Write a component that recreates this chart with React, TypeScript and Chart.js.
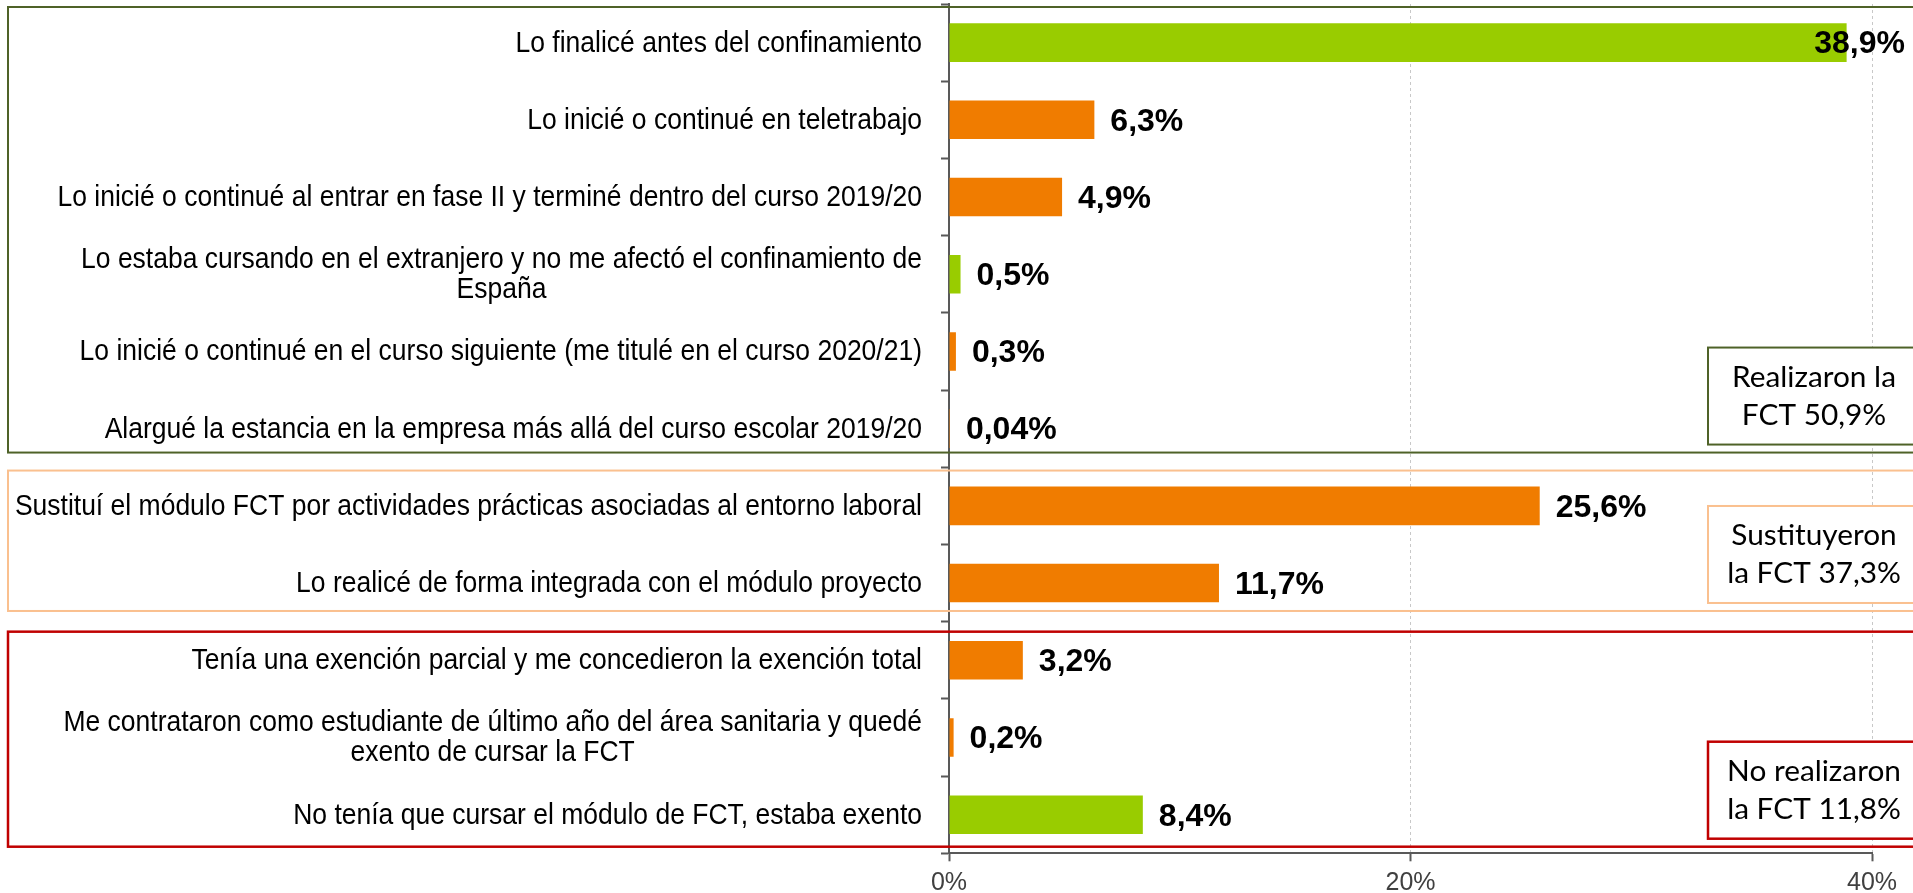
import React, { useEffect, useRef } from "react";
import { Chart, registerables } from "chart.js";

Chart.register(...registerables);

const categories: (string | string[])[] = [
  "Lo finalicé antes del confinamiento",
  "Lo inicié o continué en teletrabajo",
  "Lo inicié o continué al entrar en fase II y terminé dentro del curso 2019/20",
  ["Lo estaba cursando en el extranjero y no me afectó el confinamiento de", "España"],
  "Lo inicié o continué en el curso siguiente (me titulé en el curso 2020/21)",
  "Alargué la estancia en la empresa más allá del curso escolar 2019/20",
  "Sustituí el módulo FCT por actividades prácticas asociadas al entorno laboral",
  "Lo realicé de forma integrada con el módulo proyecto",
  "Tenía una exención parcial y me concedieron la exención total",
  ["Me contrataron como estudiante de último año del área sanitaria y quedé", "exento de cursar la FCT"],
  "No tenía que cursar el módulo de FCT, estaba exento",
];

const values = [38.9, 6.3, 4.9, 0.5, 0.3, 0.04, 25.6, 11.7, 3.2, 0.2, 8.4];

const GREEN = "#99CC00";
const ORANGE = "#F07C00";
const barColors = [GREEN, ORANGE, ORANGE, GREEN, ORANGE, ORANGE, ORANGE, ORANGE, ORANGE, ORANGE, GREEN];

const xTickValues = [0, 20, 40];

const groupFirst = [0, 6, 8];
const groupLast = [5, 7, 10];
const groupColors = ["#4F6228", "#FAC08F", "#C00000"];
const groupNotes = [
  ["Realizaron la", "FCT 50,9%"],
  ["Sustituyeron", "la FCT 37,3%"],
  ["No realizaron", "la FCT 11,8%"],
];
// pixel insets of the group frames from the category boundaries (style only)
const groupTopInset = [3, 3.3, 10];
const groupBottomInset = [14.7, 10.7, 6.6];

const LABEL_FONT = "'Liberation Sans', Arial, sans-serif";

const fmt = (v: number) => v.toString().replace(".", ",") + "%";

const overlayPlugin = {
  id: "overlay",
  afterDatasetsDraw(chart: any) {
    const { ctx, chartArea } = chart;
    const xs = chart.scales.x;
    const ys = chart.scales.y;
    ctx.save();
    // category labels (block right-aligned, lines centred), slightly condensed
    const hs = 0.92;
    ctx.font = `28.8px ${LABEL_FONT}`;
    ctx.fillStyle = "#000";
    ctx.textBaseline = "middle";
    ctx.textAlign = "center";
    categories.forEach((c, i) => {
      const lines = Array.isArray(c) ? c : [c];
      const maxW = Math.max(...lines.map((l) => ctx.measureText(l).width)) * hs;
      const right = chartArea.left - 27;
      const cx = right - maxW / 2;
      const cy = ys.getPixelForValue(i);
      const lh = 30;
      lines.forEach((l, k) => {
        ctx.save();
        ctx.translate(cx, cy + (k - (lines.length - 1) / 2) * lh + 1);
        ctx.scale(hs, 1);
        ctx.fillText(l, 0, 0);
        ctx.restore();
      });
    });
    // value labels
    ctx.font = `bold 32px ${LABEL_FONT}`;
    ctx.textAlign = "left";
    values.forEach((v, i) => {
      const t = fmt(v);
      const w = ctx.measureText(t).width;
      const end = xs.getPixelForValue(v);
      let x = end + 16;
      if (x + w > chart.width - 8) x = chart.width - 8 - w;
      ctx.fillText(t, x, ys.getPixelForValue(i) + 2);
    });
    ctx.restore();
  },
  afterDraw(chart: any) {
    const { ctx, chartArea } = chart;
    const ys = chart.scales.y;
    ctx.save();
    // note font fitted to Calibri-like width
    ctx.font = `30px Lato, 'Open Sans', sans-serif`;
    const ref = ctx.measureText("Realizaron la").width;
    const noteSize = (30 * 164) / ref;
    groupFirst.forEach((first, g) => {
      const top = ys.getPixelForValue(first - 0.5) + groupTopInset[g];
      const bottom = ys.getPixelForValue(groupLast[g] + 0.5) - groupBottomInset[g];
      ctx.strokeStyle = groupColors[g];
      ctx.lineWidth = g === 2 ? 2.5 : 2;
      ctx.strokeRect(8, top, chart.width + 40, bottom - top);
      // note box
      const bBottom = bottom - 8;
      const bTop = bBottom - 97;
      const bLeft = chartArea.right - 164;
      const bW = 212;
      ctx.fillStyle = "#fff";
      ctx.fillRect(bLeft, bTop, bW, bBottom - bTop);
      ctx.strokeRect(bLeft, bTop, bW, bBottom - bTop);
      ctx.fillStyle = "#000";
      ctx.font = `${noteSize}px Lato, 'Open Sans', sans-serif`;
      ctx.textAlign = "center";
      ctx.textBaseline = "middle";
      const cx = bLeft + bW / 2;
      const cy = (bTop + bBottom) / 2;
      groupNotes[g].forEach((l, k) => ctx.fillText(l, cx, cy + (k === 0 ? -19 : 19)));
    });
    ctx.restore();
  },
};

export default function App() {
  const ref = useRef<HTMLCanvasElement | null>(null);
  useEffect(() => {
    if (!ref.current) return;
    const chart = new Chart(ref.current, {
      type: "bar",
      data: {
        labels: categories.map((c) => (Array.isArray(c) ? c.join(" ") : c)),
        datasets: [
          {
            data: values,
            backgroundColor: barColors,
            borderWidth: 0,
            barPercentage: 0.5,
            categoryPercentage: 1,
          },
        ],
      },
      options: {
        indexAxis: "y",
        animation: false,
        responsive: false,
        devicePixelRatio: 1,
        layout: { padding: { left: 0, right: 41, top: 4, bottom: 0 } },
        plugins: { legend: { display: false }, tooltip: { enabled: false } },
        scales: {
          x: {
            type: "linear",
            min: 0,
            max: 40,
            afterBuildTicks: (s: any) => {
              s.ticks = xTickValues.map((v) => ({ value: v }));
            },
            afterFit: (s: any) => {
              s.height = 39.7;
            },
            ticks: {
              callback: (v: any) => v + "%",
              font: { family: LABEL_FONT, size: 25 },
              color: "#404040",
              padding: 7,
              maxRotation: 0,
            },
            grid: {
              color: (c: any) => (c.tick && c.tick.value === 0 ? "rgba(0,0,0,0)" : "#C8C8C8"),
              lineWidth: 1,
              tickLength: 8,
              tickColor: "#595959",
              tickWidth: 2,
            },
            border: { display: true, color: "#595959", width: 2, dash: [3, 3] },
          },
          y: {
            type: "category",
            afterFit: (s: any) => {
              s.width = 949;
            },
            ticks: { display: false },
            grid: {
              offset: true,
              drawOnChartArea: false,
              tickLength: 8,
              tickColor: "#595959",
              tickWidth: 2,
            },
            border: { display: true, color: "#595959", width: 2 },
          },
        },
      },
      plugins: [overlayPlugin],
    });
    return () => chart.destroy();
  }, []);
  return (
    <div style={{ position: "fixed", left: 0, top: 0, width: 1913, height: 893, background: "#fff" }}>
      <canvas ref={ref} width={1913} height={893} style={{ display: "block" }} />
    </div>
  );
}
